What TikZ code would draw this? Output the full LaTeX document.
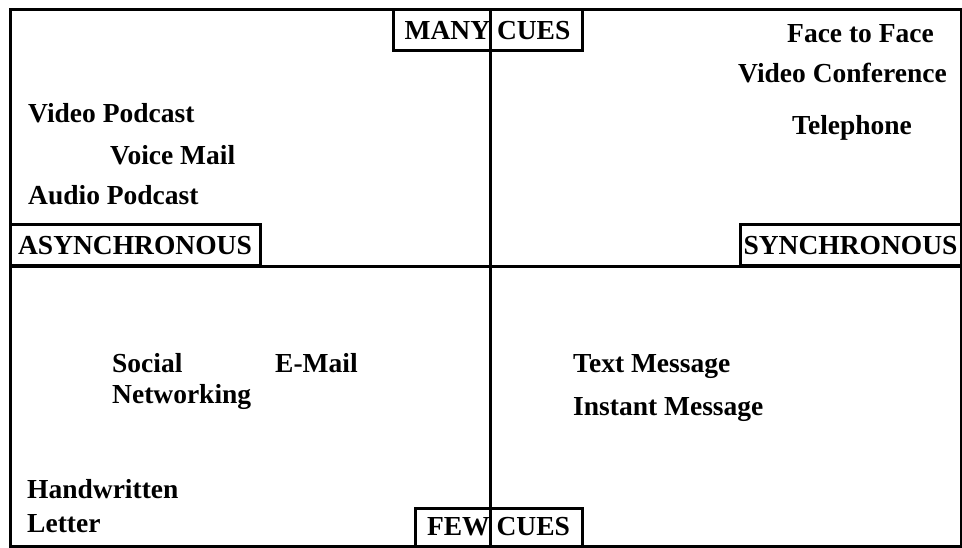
\documentclass[tikz,border=0pt]{standalone}
\usepackage{fontspec}
\setmainfont{Liberation Serif}

\begin{document}
\begin{tikzpicture}[x=1pt,y=-1pt,
		item/.style={anchor=base west,inner sep=0pt,font=\fontsize{27.5}{30}\selectfont\bfseries},
		cuebox/.style={draw,line width=3pt,inner sep=0pt,font=\fontsize{27.5}{30}\selectfont\bfseries}]
			\useasboundingbox (0,0) rectangle (962,548);
			\coordinate (nw) at (10,10); \coordinate (se) at (961,546);
			\coordinate (top) at (490,10); \coordinate (bot) at (490,546);
			\coordinate (west) at (10,267); \coordinate (east) at (961,267);
			\draw[line width=3pt] (nw) rectangle (se);
			\draw[line width=3pt] (top) -- (bot);
			\draw[line width=3pt] (west) -- (east);
			\node[cuebox,minimum width=189pt,minimum height=41pt] (many) at (487.5,30.5) {MANY CUES};
			\node[cuebox,minimum width=167pt,minimum height=38pt] (few) at (498.5,527) {FEW CUES};
			\node[cuebox,minimum width=250pt,minimum height=41pt] (async) at (135,245.5) {ASYNCHRONOUS};
			\node[cuebox,minimum width=221pt,minimum height=41pt] (sync) at (850.5,245.5) {SYNCHRONOUS};
			\foreach \nm/\x/\y/\t in {face/787/43/Face to Face,vidconf/738/83/Video Conference,phone/792/135/Telephone,
				vidpod/28/123/Video Podcast,voice/110/165/Voice Mail,audpod/28/205/Audio Podcast,
				social/112/373/Social,netw/112/403/Networking,email/275/373/E-Mail,
				txtmsg/573/373/Text Message,instant/573/415/Instant Message,
				hand/27/498/Handwritten,letter/27/532/Letter} {\node[item] (\nm) at (\x,\y) {\t};}
		\end{tikzpicture}
\end{document}
